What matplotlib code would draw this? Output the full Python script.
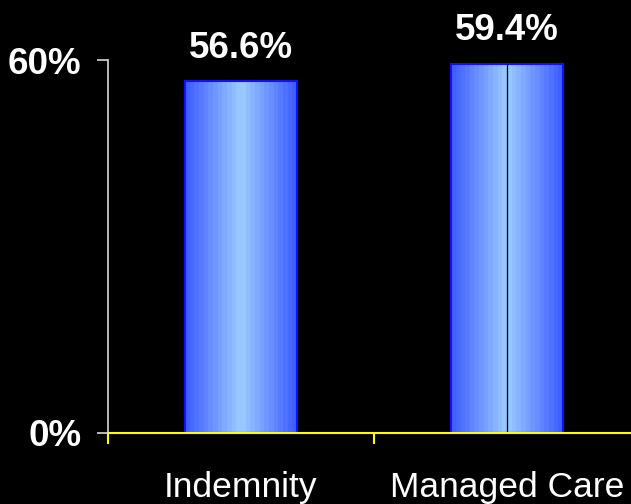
import numpy as np
import matplotlib
matplotlib.use("Agg")
import matplotlib.pyplot as plt
from matplotlib.colors import LinearSegmentedColormap

# ---------------- data ----------------
categories = ["Indemnity", "Managed Care"]
values = [56.6, 59.4]
value_labels = ["56.6%", "59.4%"]
ytick_vals = [0, 60]
ytick_labels = ["0%", "60%"]

plt.rcParams["font.family"] = ["Liberation Sans", "DejaVu Sans"]

BAR_CMAP = LinearSegmentedColormap.from_list(
    "barshade", ["#3f5fff", "#6f95ff", "#9ccbff", "#6f95ff", "#3f5fff"])

fig = plt.figure(figsize=(6.31, 5.04), dpi=100, facecolor="black")
ax = fig.add_axes([108 / 631, 1 - 433 / 504, 532 / 631, 373 / 504])
ax.set_facecolor("black")

x = np.arange(len(categories))
bars = ax.bar(x, values, width=0.42, color="none", edgecolor="#1010ff",
              linewidth=1.5, zorder=3)

# horizontal gradient fill clipped to each bar
grad = np.linspace(0, 1, 24).reshape(1, -1)
for b in bars:
    x0, y0 = b.get_x(), b.get_y()
    w, h = b.get_width(), b.get_height()
    im = ax.imshow(grad, cmap=BAR_CMAP, aspect="auto", interpolation="nearest",
                   extent=(x0, x0 + w, y0, y0 + h), zorder=2)
    im.set_clip_path(b)

# thin divider on the second bar
b2 = bars[1]
ax.plot([b2.get_x() + b2.get_width() / 2] * 2, [0, b2.get_height()],
        color="black", lw=0.9, zorder=4)

for b, lab in zip(bars, value_labels):
    ax.annotate(lab, (b.get_x() + b.get_width() / 2, b.get_height()),
                xytext=(0, 11), textcoords="offset points",
                ha="center", va="bottom", color="white",
                fontsize=26.5, fontweight="bold", annotation_clip=False)

ax.set_xlim(-0.5, 1.5)
ax.set_ylim(0, 60)

ax.set_yticks(ytick_vals)
ax.set_yticklabels(ytick_labels, fontsize=26.5, fontweight="bold", color="white")
ax.tick_params(axis="y", direction="out", length=8, width=1.2, colors="#d8d8d8",
               labelcolor="white", pad=11)

ax.set_xticks([-0.5, 0.5, 1.5])
ax.set_xticklabels([])
ax.set_xticks(x, minor=True)
ax.set_xticklabels(categories, minor=True, fontsize=25.5, color="white")
ax.tick_params(axis="x", which="major", direction="out", length=8, width=1.5,
               colors="#ffff00")
ax.tick_params(axis="x", which="minor", length=0, pad=27, labelcolor="white")

for s in ["top", "right"]:
    ax.spines[s].set_visible(False)
ax.spines["left"].set_color("#d8d8d8")
ax.spines["left"].set_linewidth(1.2)
ax.spines["bottom"].set_color("#ffff00")
ax.spines["bottom"].set_linewidth(1.5)
ax.spines["bottom"].set_zorder(5)

fig.savefig("out.png", dpi=100, facecolor="black")
